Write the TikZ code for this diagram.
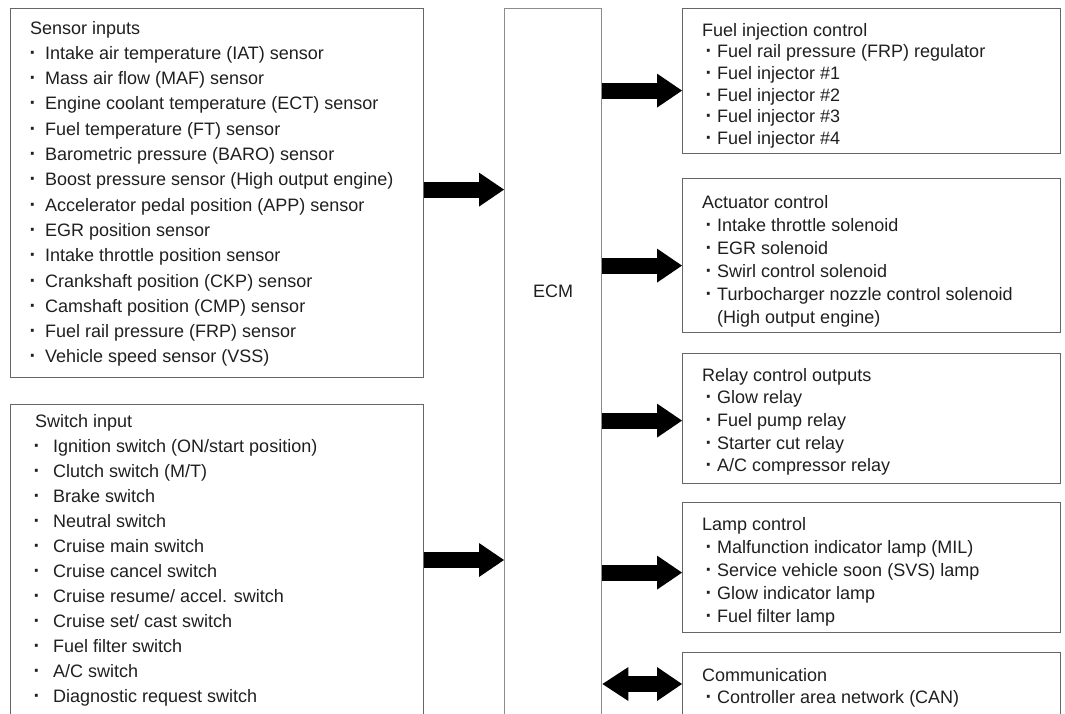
\documentclass[tikz,border=0pt]{standalone}
\usepackage{fontspec}
\setmainfont{Liberation Sans}
\usetikzlibrary{arrows.meta}
\begin{document}
\begin{tikzpicture}[x=1pt,y=1pt,
  box/.style={draw=black!60, line width=1.2pt, inner sep=0pt, anchor=north west},
  ecmbox/.style={draw=black!45, line width=1.4pt, inner sep=0pt, anchor=north west},
  txt/.style={anchor=base west, inner sep=0pt, text=black!88, font=\fontsize{18}{22}\selectfont},
  bul/.style={anchor=base west, inner sep=0pt, text=black!88, font=\bfseries\fontsize{20}{22}\selectfont},
  bigarrow/.style={line width=16pt, -{Triangle[length=25pt,width=34pt,line width=0pt]}},
  dblarrow/.style={line width=16pt, {Triangle[length=26pt,width=34pt,line width=0pt]}-{Triangle[length=25pt,width=34pt,line width=0pt]}}
]
\clip (0,0) rectangle (1065,-713);
% boxes
\node[box, minimum width=413pt, minimum height=369pt] (sensor) at (10,-8) {};
\node[box, minimum width=413pt, minimum height=340pt] (switch) at (10,-404) {};
\node[ecmbox, minimum width=97pt, minimum height=740pt] (ecm) at (504,-8) {};
\node[box, minimum width=378pt, minimum height=145pt] (fuel) at (682,-8) {};
\node[box, minimum width=378pt, minimum height=154pt] (act) at (682,-178) {};
\node[box, minimum width=378pt, minimum height=130pt] (relay) at (682,-353) {};
\node[box, minimum width=378pt, minimum height=130pt] (lamp) at (682,-502) {};
\node[box, minimum width=378pt, minimum height=100pt] (comm) at (682,-652) {};
\node[anchor=center, inner sep=0pt, text=black!88, font=\fontsize{18}{22}\selectfont] (ecmt) at (553,-291) {ECM};
% sensor inputs
\node[txt] (sent) at (30,-34) {Sensor inputs};
\foreach \t [count=\i] in {Intake air temperature (IAT) sensor, Mass air flow (MAF) sensor, Engine coolant temperature (ECT) sensor, Fuel temperature (FT) sensor, Barometric pressure (BARO) sensor, Boost pressure sensor (High output engine), Accelerator pedal position (APP) sensor, EGR position sensor, Intake throttle position sensor, Crankshaft position (CKP) sensor, Camshaft position (CMP) sensor, Fuel rail pressure (FRP) sensor, Vehicle speed sensor (VSS)}{
  \node[bul] (senb\i) at (29.5,{-34-25.3*\i}) {·};
  \node[txt] (sen\i) at (45,{-34-25.3*\i}) {\t};
}
% switch input
\node[txt] (swt) at (35,-427) {Switch input};
\foreach \t [count=\i] in {Ignition switch (ON/start position), Clutch switch (M/T), Brake switch, Neutral switch, Cruise main switch, Cruise cancel switch, Cruise resume/ accel. switch, Cruise set/ cast switch, Fuel filter switch, A/C switch, Diagnostic request switch}{
  \node[bul] (swb\i) at (33.5,{-427-25*\i}) {·};
  \node[txt] (sw\i) at (53,{-427-25*\i}) {\t};
}
% fuel injection
\node[txt] (fuelt) at (702,-36) {Fuel injection control};
\foreach \t [count=\i] in {Fuel rail pressure (FRP) regulator, Fuel injector \#1, Fuel injector \#2, Fuel injector \#3, Fuel injector \#4}{
  \node[bul] (fub\i) at (705.5,{-36-21.7*\i}) {·};
  \node[txt] (fu\i) at (717,{-36-21.7*\i}) {\t};
}
% actuator
\node[txt] (actt) at (702,-208) {Actuator control};
\foreach \t [count=\i] in {Intake throttle solenoid, EGR solenoid, Swirl control solenoid, Turbocharger nozzle control solenoid}{
  \node[bul] (acb\i) at (705.5,{-208-23*\i}) {·};
  \node[txt] (ac\i) at (717,{-208-23*\i}) {\t};
}
\node[txt] (ac5) at (717,-323) {(High output engine)};
% relay
\node[txt] (relt) at (702,-381) {Relay control outputs};
\foreach \t [count=\i] in {Glow relay, Fuel pump relay, Starter cut relay, A/C compressor relay}{
  \node[bul] (reb\i) at (705.5,{-381-22.7*\i}) {·};
  \node[txt] (re\i) at (717,{-381-22.7*\i}) {\t};
}
% lamp
\node[txt] (lamt) at (702,-530) {Lamp control};
\foreach \t [count=\i] in {Malfunction indicator lamp (MIL), Service vehicle soon (SVS) lamp, Glow indicator lamp, Fuel filter lamp}{
  \node[bul] (lab\i) at (705.5,{-530-23*\i}) {·};
  \node[txt] (la\i) at (717,{-530-23*\i}) {\t};
}
% communication
\node[txt] (comt) at (702,-681) {Communication};
\node[bul] (cob1) at (705.5,-703) {·};
\node[txt] (co1) at (717,-703) {Controller area network (CAN)};
% arrows
\coordinate (a1) at ([yshift=3.5pt]sensor.east);
\draw[bigarrow] (a1) -- (a1 -| ecm.west);
\coordinate (a2) at ([yshift=-156pt]switch.north east);
\draw[bigarrow] (a2) -- (a2 -| ecm.west);
\coordinate (b1) at ([yshift=-9.5pt]fuel.west);
\draw[bigarrow] (b1 -| ecm.east) -- (b1);
\coordinate (b2) at ([yshift=-10pt]act.west);
\draw[bigarrow] (b2 -| ecm.east) -- (b2);
\coordinate (b3) at ([yshift=-2pt]relay.west);
\draw[bigarrow] (b3 -| ecm.east) -- (b3);
\coordinate (b4) at ([yshift=-5pt]lamp.west);
\draw[bigarrow] (b4 -| ecm.east) -- (b4);
\coordinate (b5) at ([yshift=-32pt]comm.north west);
\draw[dblarrow] (b5 -| ecm.east) -- (b5);
\end{tikzpicture}
\end{document}
